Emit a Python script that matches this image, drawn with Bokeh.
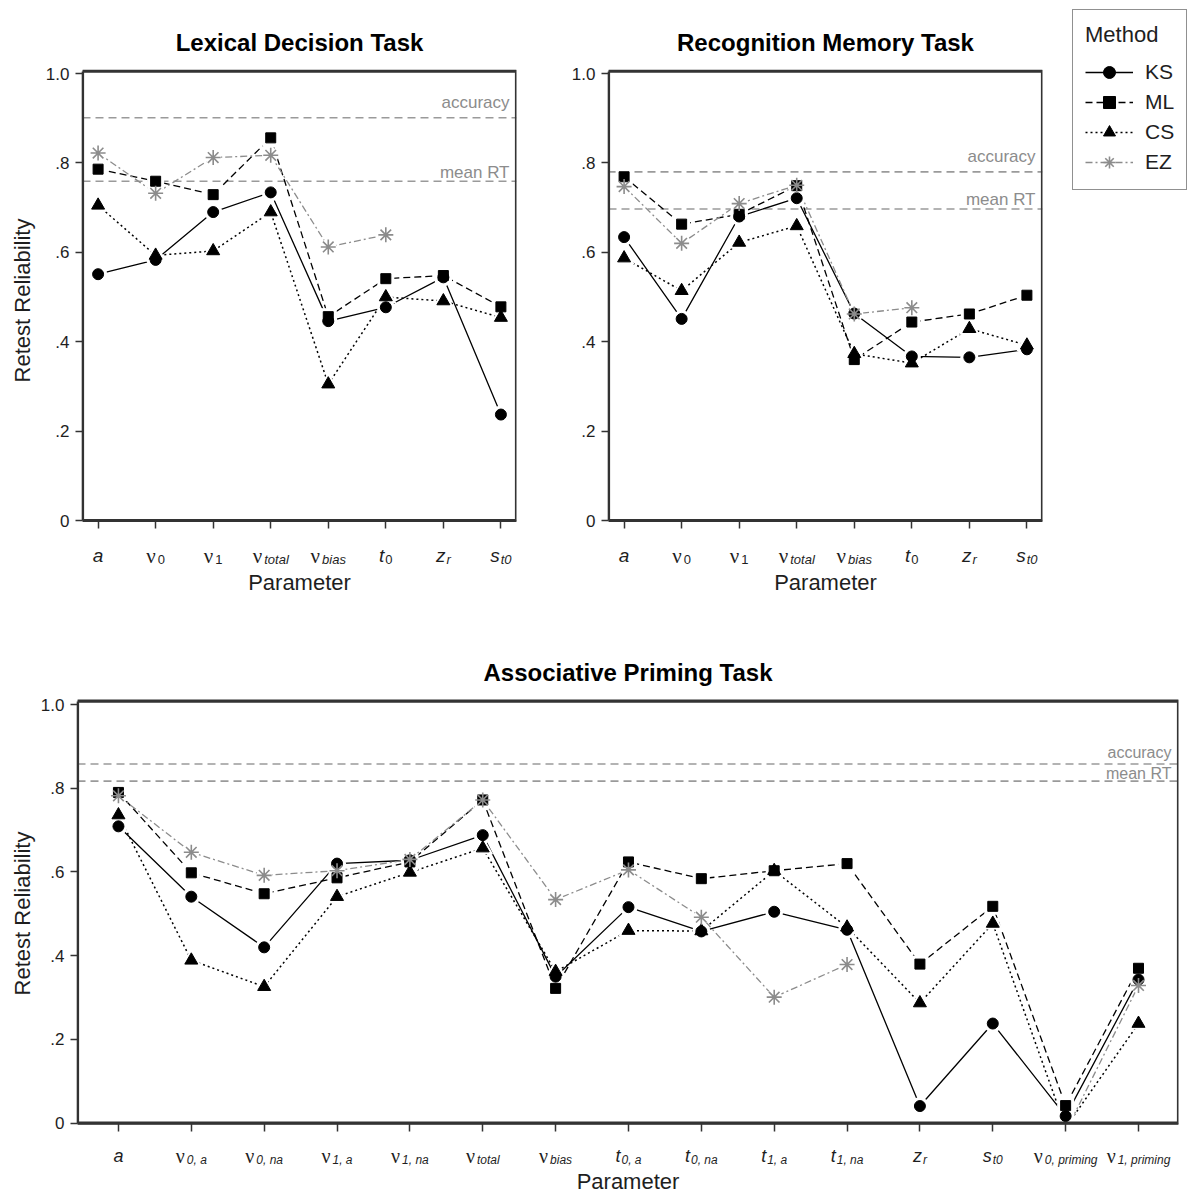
from bokeh.plotting import figure
from bokeh.layouts import column, row
from bokeh.models import Range1d, FixedTicker, Span, Label, Legend, LegendItem, BoxAnnotation
from bokeh.embed import file_html
from bokeh.resources import INLINE

nan = float("nan")

methods = ["KS", "ML", "CS", "EZ"]

# ---- Lexical Decision Task ----
ldt_symbols = ["a", "ν", "ν", "ν", "ν", "t", "z", "s"]
ldt_subscripts = ["", "0", "1", "total", "bias", "0", "r", "t0"]
ldt_ks = [0.551, 0.583, 0.690, 0.734, 0.446, 0.477, 0.544, 0.237]
ldt_ml = [0.786, 0.759, 0.729, 0.856, 0.456, 0.541, 0.548, 0.478]
ldt_cs = [0.705, 0.593, 0.603, 0.690, 0.305, 0.500, 0.491, 0.454]
ldt_ez = [0.822, 0.732, 0.812, 0.817, 0.612, 0.639, nan, nan]
ldt_accuracy = 0.901
ldt_mean_rt = 0.759

# ---- Recognition Memory Task ----
rmt_symbols = ["a", "ν", "ν", "ν", "ν", "t", "z", "s"]
rmt_subscripts = ["", "0", "1", "total", "bias", "0", "r", "t0"]
rmt_ks = [0.634, 0.451, 0.680, 0.721, 0.463, 0.367, 0.365, 0.383]
rmt_ml = [0.769, 0.663, 0.685, 0.749, 0.360, 0.444, 0.462, 0.504]
rmt_cs = [0.587, 0.514, 0.622, 0.659, 0.373, 0.352, 0.429, 0.392]
rmt_ez = [0.747, 0.620, 0.709, 0.750, 0.462, 0.476, nan, nan]
rmt_accuracy = 0.780
rmt_mean_rt = 0.697

# ---- Associative Priming Task ----
apt_symbols = ["a", "ν", "ν", "ν", "ν", "ν", "ν", "t", "t", "t", "t", "z", "s", "ν", "ν"]
apt_subscripts = ["", "0, a", "0, na", "1, a", "1, na", "total", "bias",
                  "0, a", "0, na", "1, a", "1, na", "r", "t0", "0, priming", "1, priming"]
apt_ks = [0.709, 0.541, 0.420, 0.620, 0.628, 0.688, 0.350, 0.516, 0.458, 0.505, 0.462, 0.041, 0.238, 0.017, 0.343]
apt_ml = [0.790, 0.598, 0.548, 0.586, 0.624, 0.772, 0.322, 0.624, 0.584, 0.603, 0.620, 0.380, 0.518, 0.042, 0.370]
apt_cs = [0.736, 0.389, 0.326, 0.541, 0.599, 0.657, 0.362, 0.460, 0.459, 0.603, 0.468, 0.287, 0.477, -0.010, 0.238]
apt_ez = [0.782, 0.647, 0.592, 0.603, 0.630, 0.772, 0.534, 0.605, 0.492, 0.301, 0.379, nan, nan, -0.020, 0.329]
apt_accuracy = 0.858
apt_mean_rt = 0.817

y_ticks = [0, 0.2, 0.4, 0.6, 0.8, 1.0]
y_tick_text = ["0", ".2", ".4", ".6", ".8", "1.0"]

FONT = "Liberation Sans"
SYM_FONT = "Liberation Serif"
INK = "#1e1e1e"
GRAY = "#8c8c8c"
AXIS = "#333333"

STYLE = {
    "KS": dict(marker="circle", size=11, dash="solid", color="black", lw=1.3, halo="circle", halo_size=18),
    "ML": dict(marker="square", size=10, dash="7 4", color="black", lw=1.3, halo="square", halo_size=17),
    "CS": dict(marker="triangle", size=13, dash="2 3", color="black", lw=1.5, halo="triangle", halo_size=21),
    "EZ": dict(marker="asterisk", size=15, dash="7 3 2 3", color=GRAY, lw=1.3, halo="circle", halo_size=16),
}

# approximate advance widths (per 1000 em) used to centre the composite tick labels
ADV = {"a": 556, "ν": 500, "t": 278, "z": 500, "s": 500, "0": 556, "1": 556, ",": 278,
       " ": 278, "n": 556, "o": 556, "l": 222, "b": 556, "i": 222, "r": 333, "p": 556,
       "m": 833, "g": 556}


def text_width(s, size):
    return sum(ADV.get(ch, 556) for ch in s) * size / 1000.0


def task_panel(title, symbols, subscripts, series, accuracy, mean_rt, width, height,
               bl, br, bt, bb, y0_px, y1_px, pad_l, pad_r, box_top, y_label, ylab_standoff,
               axis_side, title_px, main_px, sub_px, xlab_px, main_size, sub_size,
               note_size, note_gaps):
    """One task panel; pixel arguments are measured from the top of this figure."""
    n = len(symbols)
    xs = list(range(n))
    ppu = y0_px - y1_px                       # pixels per reliability unit
    frame_top, frame_bottom = bt, height - bb
    y_end = (y0_px - frame_top) / ppu
    y_start = -(frame_bottom - y0_px) / ppu
    x_start, x_end = -pad_l, n - 1 + pad_r
    x_mid = (x_start + x_end) / 2

    def ypix(px):
        return (y0_px - px) / ppu

    p = figure(width=width, height=height, output_backend="svg", toolbar_location=None,
               title=None, x_range=Range1d(x_start, x_end), y_range=Range1d(y_start, y_end),
               x_axis_location=axis_side,
               min_border_left=bl, min_border_right=br, min_border_top=bt, min_border_bottom=bb)
    p.grid.visible = False
    p.outline_line_color = None

    # plotting box
    p.add_layout(BoxAnnotation(left=x_start, right=x_end, bottom=0, top=box_top,
                               fill_alpha=0, line_color=AXIS, line_alpha=1.0, line_width=3.2))

    # y axis
    p.yaxis.bounds = (0, box_top)
    p.yaxis.ticker = FixedTicker(ticks=y_ticks)
    p.yaxis.major_label_overrides = {t: s for t, s in zip(y_ticks, y_tick_text)}
    p.yaxis.minor_tick_line_color = None
    p.yaxis.major_tick_in = 0
    p.yaxis.major_tick_out = 7
    p.yaxis.major_label_standoff = 6
    p.yaxis.major_label_text_font = FONT
    p.yaxis.major_label_text_font_size = "17px"
    p.yaxis.major_label_text_color = INK
    p.yaxis.axis_label = y_label
    p.yaxis.axis_label_text_font = FONT
    p.yaxis.axis_label_text_font_size = "22px"
    p.yaxis.axis_label_text_font_style = "normal"
    p.yaxis.axis_label_text_color = INK
    p.yaxis.axis_label_standoff = ylab_standoff

    # x axis drawn along reliability 0, ticks only
    p.xaxis.fixed_location = 0
    p.xaxis.ticker = FixedTicker(ticks=xs)
    p.xaxis.major_label_overrides = {i: "" for i in xs}
    p.xaxis.major_label_text_font_size = "1px"
    p.xaxis.major_label_standoff = 0
    p.xaxis.minor_tick_line_color = None
    if axis_side == "below":
        p.xaxis.major_tick_in, p.xaxis.major_tick_out = 0, 8
    else:
        p.xaxis.major_tick_in, p.xaxis.major_tick_out = 8, 0

    for ax in (p.xaxis, p.yaxis):
        ax.axis_line_color = AXIS
        ax.axis_line_width = 1.6
        ax.major_tick_line_color = AXIS
        ax.major_tick_line_width = 1.5

    # title and axis title
    p.add_layout(Label(x=x_mid, y=ypix(title_px), text=title, text_align="center",
                       text_baseline="middle", text_font=FONT, text_font_size="24px",
                       text_font_style="bold", text_color="black"))
    p.add_layout(Label(x=x_mid, y=ypix(xlab_px), text="Parameter", text_align="center",
                       text_baseline="middle", text_font=FONT, text_font_size="22px",
                       text_color=INK))

    # reference reliabilities of the raw measures
    for val, txt, gap in ((accuracy, "accuracy", note_gaps[0]), (mean_rt, "mean RT", note_gaps[1])):
        p.add_layout(Span(location=val, dimension="width", line_color="#9a9a9a",
                          line_width=1.6, line_dash="8 5", level="underlay"))
        p.add_layout(Label(x=x_end, y=val + gap / ppu, x_offset=-7, text=txt,
                           text_align="right", text_baseline="middle",
                           text_font=FONT, text_font_size=note_size, text_color=GRAY))

    # connecting lines
    for m in methods:
        st = STYLE[m]
        p.line(xs, series[m], line_color=st["color"], line_width=st["lw"], line_dash=st["dash"])
    # white halos leave small gaps where lines meet the markers
    for m in methods:
        st = STYLE[m]
        p.scatter(xs, series[m], marker=st["halo"], size=st["halo_size"],
                  fill_color="white", line_color=None)
    for m in methods:
        st = STYLE[m]
        if m == "EZ":
            p.scatter(xs, series[m], marker=st["marker"], size=st["size"],
                      line_color=st["color"], line_width=1.6)
        else:
            p.scatter(xs, series[m], marker=st["marker"], size=st["size"],
                      fill_color=st["color"], line_color=st["color"])

    # cover anything that falls below the zero line
    p.add_layout(BoxAnnotation(left=x_start, right=x_end, bottom=y_start, top=0,
                               fill_color="white", fill_alpha=1.0, line_color=None,
                               level="glyph"))

    # parameter labels with subscripts
    for i, (sym, sub) in enumerate(zip(symbols, subscripts)):
        greek = sym == "ν"
        msize = main_size + (2 if greek else 0)
        w_main = text_width(sym, msize)
        w_sub = text_width(sub, sub_size) if sub else 0
        left = -(w_main + (w_sub + 1 if sub else 0)) / 2.0
        p.add_layout(Label(x=i, y=ypix(main_px), x_offset=left, text=sym, text_align="left",
                           text_baseline="middle", text_font=SYM_FONT if greek else FONT,
                           text_font_size=f"{msize}px", text_color=INK,
                           text_font_style="normal" if greek else "italic"))
        if sub:
            p.add_layout(Label(x=i, y=ypix(sub_px), x_offset=left + w_main + 1, text=sub,
                               text_align="left", text_baseline="middle", text_font=FONT,
                               text_font_size=f"{sub_size}px", text_color=INK,
                               text_font_style="normal" if sub.isdigit() else "italic"))
    return p


ldt = dict(KS=ldt_ks, ML=ldt_ml, CS=ldt_cs, EZ=ldt_ez)
rmt = dict(KS=rmt_ks, ML=rmt_ml, CS=rmt_cs, EZ=rmt_ez)
apt = dict(KS=apt_ks, ML=apt_ml, CS=apt_cs, EZ=apt_ez)

top_common = dict(height=620, bt=0, bb=20, y0_px=520, y1_px=73, pad_l=0.271, pad_r=0.271,
                  box_top=1.005, axis_side="below", title_px=42, main_px=555, sub_px=559,
                  xlab_px=582, main_size=19, sub_size=13, note_size="17px", note_gaps=(15, 9))

p1 = task_panel("Lexical Decision Task", ldt_symbols, ldt_subscripts, ldt, ldt_accuracy, ldt_mean_rt,
                width=560, bl=82, br=44, y_label="Retest Reliability", ylab_standoff=8, **top_common)

p2 = task_panel("Recognition Memory Task", rmt_symbols, rmt_subscripts, rmt, rmt_accuracy, rmt_mean_rt,
                width=503, bl=48, br=21, y_label="", ylab_standoff=0, **top_common)

p3 = task_panel("Associative Priming Task", apt_symbols, apt_subscripts, apt, apt_accuracy, apt_mean_rt,
                width=1188, height=574, bl=77, br=10, bt=12, bb=0, y0_px=502.7, y1_px=84,
                pad_l=0.562, pad_r=0.549, box_top=1.008, y_label="Retest Reliability",
                ylab_standoff=3, axis_side="above", title_px=52, main_px=535, sub_px=539,
                xlab_px=561, main_size=18, sub_size=12, note_size="16px", note_gaps=(11, 8))

# legend panel: its renderers carry the lexical-decision series but sit outside the visible range
pleg = figure(width=125, height=620, output_backend="svg", toolbar_location=None, title=None,
              x_range=Range1d(-30, -20), y_range=Range1d(0, 1),
              x_axis_location=None, y_axis_location=None,
              min_border_left=0, min_border_right=0, min_border_top=0, min_border_bottom=20)
pleg.outline_line_color = None
pleg.grid.visible = False
items = []
leg_x = list(range(len(ldt_symbols)))
for m in methods:
    st = STYLE[m]
    rl = pleg.line(leg_x, ldt[m], line_color=st["color"], line_width=st["lw"], line_dash=st["dash"])
    if m == "EZ":
        rm = pleg.scatter(leg_x, ldt[m], marker=st["marker"], size=st["size"],
                          line_color=st["color"], line_width=1.6)
    else:
        rm = pleg.scatter(leg_x, ldt[m], marker=st["marker"], size=st["size"],
                          fill_color=st["color"], line_color=st["color"])
    items.append(LegendItem(label=m, renderers=[rl, rm]))
legend = Legend(items=items, location="top_left", title="Method")
legend.margin = 9
legend.padding = 12
legend.spacing = 0
legend.glyph_width = 48
legend.glyph_height = 30
legend.label_height = 30
legend.label_standoff = 12
legend.label_text_font = FONT
legend.label_text_font_size = "21px"
legend.label_text_color = INK
legend.title_text_font = FONT
legend.title_text_font_size = "22px"
legend.title_text_font_style = "normal"
legend.title_text_color = INK
legend.title_standoff = 9
legend.border_line_color = "#222222"
legend.border_line_width = 1.3
legend.background_fill_alpha = 1.0
pleg.add_layout(legend)

layout = column(row(p1, p2, pleg), p3)

with open("out.html", "w") as f:
    f.write(file_html(layout, INLINE))
